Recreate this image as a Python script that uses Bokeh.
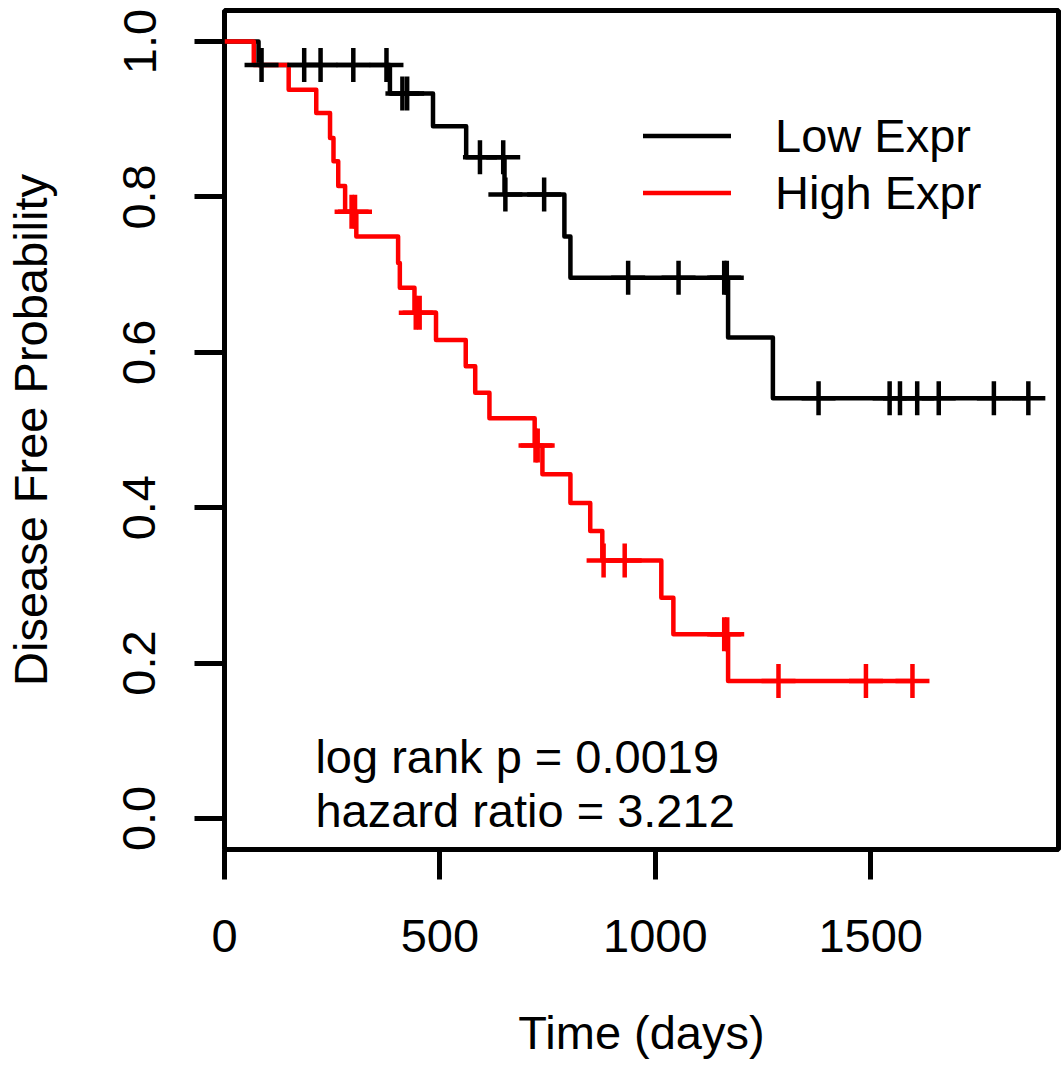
from bokeh.plotting import figure
from bokeh.models import Range1d, FixedTicker, PrintfTickFormatter, Legend, LegendItem
from bokeh.core.properties import value
from bokeh.embed import file_html
from bokeh.resources import INLINE

# ---- data ----
low_times = [0, 79, 384, 484, 561, 650, 789, 803, 1169, 1273, 1866]
low_surv = [1.0, 0.970, 0.933, 0.891, 0.851, 0.803, 0.749, 0.696, 0.619, 0.541, 0.541]
low_cens_t = [86, 185, 223, 299, 376, 413, 424, 593, 647, 652, 742, 937, 1054, 1160, 1166,
              1379, 1544, 1568, 1608, 1658, 1786, 1866]
low_cens_s = [0.970, 0.970, 0.970, 0.970, 0.970, 0.933, 0.933, 0.851, 0.851, 0.803, 0.803,
              0.696, 0.696, 0.696, 0.696, 0.541, 0.541, 0.541, 0.541, 0.541, 0.541, 0.541]

high_times = [0, 68, 149, 213, 245, 253, 264, 280, 306, 403, 407, 441, 491, 560, 582, 615,
              720, 738, 803, 849, 877, 1014, 1042, 1169, 1597]
high_surv = [1.0, 0.970, 0.938, 0.908, 0.876, 0.846, 0.814, 0.781, 0.749, 0.715, 0.683, 0.651,
             0.616, 0.582, 0.548, 0.515, 0.480, 0.443, 0.406, 0.370, 0.332, 0.284, 0.237, 0.177, 0.177]
high_cens_t = [295, 303, 444, 453, 722, 727, 880, 929, 1160, 1167, 1286, 1489, 1597]
high_cens_s = [0.781, 0.781, 0.651, 0.651, 0.480, 0.480, 0.332, 0.332, 0.237, 0.237,
               0.177, 0.177, 0.177]

x_ticks = [0, 500, 1000, 1500]
y_ticks = [0.0, 0.2, 0.4, 0.6, 0.8, 1.0]
series_labels = ["Low Expr", "High Expr"]
stats_text = ["log rank p = 0.0019", "hazard ratio = 3.212"]
stats_x = [211, 211]
stats_y = [0.080, 0.010]

FONT = "Liberation Sans"
FS = "47px"

p = figure(width=1063, height=1072, output_backend="svg", toolbar_location=None,
           x_range=Range1d(0, 1936), y_range=Range1d(-0.04, 1.04),
           min_border_left=221, min_border_right=5, min_border_top=10, min_border_bottom=223,
           x_axis_label="Time (days)", y_axis_label="Disease Free Probability")

p.background_fill_color = "white"
p.border_fill_color = "white"
p.outline_line_color = "black"
p.outline_line_width = 5
p.grid.visible = False

for ax in (p.xaxis[0], p.yaxis[0]):
    ax.axis_line_color = None
    ax.major_tick_line_color = "black"
    ax.major_tick_line_width = 5
    ax.major_tick_out = 30
    ax.major_tick_in = 0
    ax.minor_tick_line_color = None
    ax.major_label_text_font = FONT
    ax.major_label_text_font_size = FS
    ax.major_label_text_color = "black"
    ax.axis_label_text_font = FONT
    ax.axis_label_text_font_size = FS
    ax.axis_label_text_font_style = "normal"
    ax.axis_label_text_color = "black"

p.xaxis[0].ticker = FixedTicker(ticks=x_ticks)
p.yaxis[0].ticker = FixedTicker(ticks=y_ticks)
p.yaxis[0].formatter = PrintfTickFormatter(format="%.1f")
p.yaxis[0].major_label_orientation = "vertical"
p.xaxis[0].major_label_standoff = 40
p.xaxis[0].axis_label_standoff = 51
p.yaxis[0].major_label_standoff = 39
p.yaxis[0].axis_label_standoff = 64

r_low = p.step(low_times, low_surv, mode="after", line_color="black", line_width=4.5,
               line_join="round", line_cap="round")
r_high = p.step(high_times, high_surv, mode="after", line_color="#FF0000", line_width=4.5,
                line_join="round", line_cap="round")
p.scatter(low_cens_t, low_cens_s, marker="cross", size=34, line_color="black", line_width=4.5)
p.scatter(high_cens_t, high_cens_s, marker="cross", size=34, line_color="#FF0000", line_width=4.5)

p.text(x=stats_x, y=stats_y, text=stats_text, text_font=value(FONT), text_font_size=FS,
       text_color="black", text_align="left", text_baseline="alphabetic")

legend = Legend(items=[LegendItem(label=series_labels[0], renderers=[r_low]),
                       LegendItem(label=series_labels[1], renderers=[r_high])],
                location=(419, 628), padding=0, margin=0, spacing=0,
                glyph_width=88, glyph_height=57, label_height=57, label_standoff=44,
                label_text_font=FONT, label_text_font_size=FS, label_text_color="black",
                border_line_color=None, background_fill_alpha=0)
p.add_layout(legend)

open("out.html", "w").write(file_html(p, INLINE))
